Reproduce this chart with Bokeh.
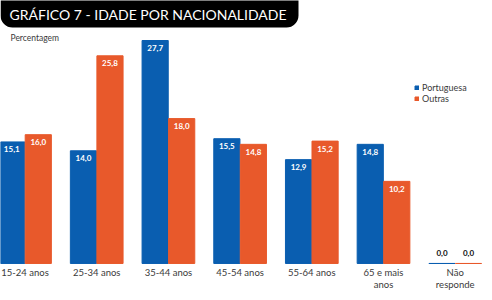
from bokeh.plotting import figure
from bokeh.models import Range1d, ColumnDataSource, Label, BoxAnnotation, Legend, LegendItem
from bokeh.core.properties import value
from bokeh.embed import file_html
from bokeh.resources import INLINE

categories = ["15-24 anos", "25-34 anos", "35-44 anos", "45-54 anos", "55-64 anos", "65 e mais\nanos", "Não\nresponde"]
portuguesa = [15.1, 14.0, 27.7, 15.5, 12.9, 14.8, 0.0]
outras = [16.0, 25.8, 18.0, 14.8, 15.2, 10.2, 0.0]
series_names = ["Portuguesa", "Outras"]
title_text = "GRÁFICO 7 - IDADE POR NACIONALIDADE"
y_title = "Percentagem"

BLUE = "#0A5EB0"
ORANGE = "#E8592B"
FONT = "Lato"

def fmt(v):
    return f"{v:.1f}".replace(".", ",")

n = len(categories)
xs = list(range(n))
off = 0.185
bw = 0.365

p = figure(width=492, height=300, output_backend="svg", toolbar_location=None,
           x_range=Range1d(-0.342, 6.52), y_range=Range1d(-4.6, 32.67),
           min_border=0, min_border_left=0, min_border_right=0, min_border_top=0, min_border_bottom=0)
p.axis.visible = False
p.grid.visible = False
p.outline_line_color = None
p.background_fill_color = "white"

src = ColumnDataSource(dict(
    xb=[x - off for x in xs], xo=[x + off for x in xs],
    pt=portuguesa, ot=outras,
))
rb = p.vbar(x="xb", top="pt", bottom=0, width=bw, source=src, fill_color=BLUE, line_color=BLUE)
ro = p.vbar(x="xo", top="ot", bottom=0, width=bw, source=src, fill_color=ORANGE, line_color=ORANGE)

# value labels inside bars (non-zero)
nz_p = [i for i in xs if portuguesa[i] > 0]
nz_o = [i for i in xs if outras[i] > 0]
lab_src = ColumnDataSource(dict(
    x=[xs[i] - off for i in nz_p] + [xs[i] + off for i in nz_o],
    y=[portuguesa[i] - 0.55 for i in nz_p] + [outras[i] - 0.55 for i in nz_o],
    t=[fmt(portuguesa[i]) for i in nz_p] + [fmt(outras[i]) for i in nz_o],
))
p.text(x="x", y="y", text="t", source=lab_src, text_color="white", text_font=value(FONT),
       text_font_style="bold", text_font_size="8px", text_align="center", text_baseline="top")

# zero value labels above baseline
z_p = [i for i in xs if portuguesa[i] == 0]
z_o = [i for i in xs if outras[i] == 0]
zero_src = ColumnDataSource(dict(
    x=[xs[i] - off for i in z_p] + [xs[i] + off for i in z_o],
    t=[fmt(portuguesa[i]) for i in z_p] + [fmt(outras[i]) for i in z_o],
))
zero_src.data["y"] = [1.25] * len(zero_src.data["x"])
p.text(x="x", y="y", text="t", source=zero_src, text_color="#111111", text_font=value(FONT),
       text_font_style="bold", text_font_size="8px", text_align="center", text_baseline="middle")

# category labels
cat_src = ColumnDataSource(dict(x=xs, y=[-0.4] * n, t=categories))
p.text(x="x", y="y", text="t", source=cat_src, text_color="#3A3A3A", text_font=value(FONT),
       text_font_size="9.5px", text_align="center", text_baseline="top", text_line_height=1.1)

# title banner
p.add_layout(BoxAnnotation(left=0, right=298, bottom=273, top=330, left_units="screen", right_units="screen",
                           top_units="screen", bottom_units="screen", fill_color="black", fill_alpha=1,
                           line_alpha=0, border_radius=12, level="overlay"))
p.add_layout(Label(x=9, y=286, x_units="screen", y_units="screen", text=title_text, text_color="white",
                   text_font=FONT, text_font_size="14px", text_baseline="middle", level="overlay"))
p.add_layout(Label(x=10, y=263, x_units="screen", y_units="screen", text=y_title, text_color="#3A3A3A",
                   text_font=FONT, text_font_size="8.5px", text_baseline="middle"))

legend = Legend(items=[LegendItem(label=series_names[0], renderers=[rb]),
                       LegendItem(label=series_names[1], renderers=[ro])],
                location=(414, 196), orientation="vertical", glyph_width=5, glyph_height=5,
                label_height=10, label_standoff=3, spacing=0, padding=0, margin=0,
                label_text_font=FONT, label_text_font_size="9px", label_text_color="#3A3A3A",
                border_line_color=None, background_fill_alpha=0)
p.add_layout(legend)

open("out.html", "w").write(file_html(p, INLINE))
